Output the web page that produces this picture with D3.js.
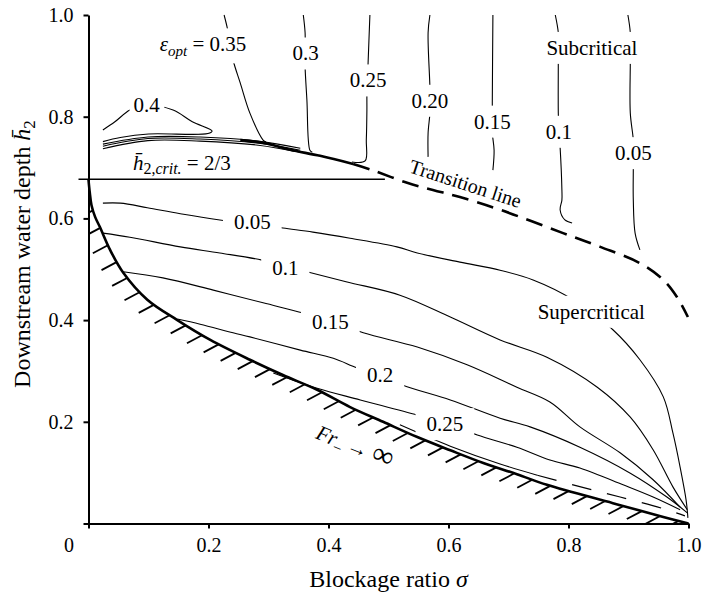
<!DOCTYPE html>
<html>
<head>
<meta charset="utf-8">
<script src="https://cdn.jsdelivr.net/npm/d3@7"></script>
<style>
  body { margin: 0; background: #fff; }
  svg { display: block; }
  .axis path, .axis line { stroke: #000; stroke-width: 2; }
  .contour { fill: none; stroke: #000; stroke-width: 1.1; }
</style>
</head>
<body>
<svg id="chart" width="703" height="593"></svg>
<script>
var SERIF = 'Liberation Serif';

// Axis ticks
var ticks = [0, 0.2, 0.4, 0.6, 0.8, 1.0];

// Critical depth used as reference line
var hCrit = 0.677;

// Fr -> infinity limit (lower boundary of the supercritical region)
var criticalCurve = [
  [0.000, 0.676], [0.002, 0.652], [0.005, 0.626], [0.011, 0.603],
  [0.019, 0.583], [0.036, 0.538], [0.058, 0.493], [0.098, 0.440],
  [0.148, 0.400], [0.203, 0.361], [0.269, 0.322], [0.324, 0.292],
  [0.381, 0.263], [0.436, 0.229], [0.491, 0.200], [0.548, 0.170],
  [0.603, 0.144], [0.658, 0.119], [0.714, 0.097], [0.764, 0.076],
  [0.874, 0.040], [0.958, 0.013], [1.000, 0.000]
];

// Transition between sub- and supercritical flow
var transitionSolid = [
  [0.253, 0.754], [0.294, 0.748], [0.336, 0.735], [0.386, 0.723], [0.441, 0.707]
];
var transitionDashed = [
  [0.441, 0.707], [0.473, 0.695], [0.531, 0.670], [0.574, 0.656],
  [0.619, 0.642], [0.686, 0.617], [0.791, 0.571], [0.853, 0.544],
  [0.919, 0.512], [0.958, 0.479], [0.981, 0.445], [0.999, 0.406]
];

// Subcritical iso-lines of eps_opt
var sub040 = [
  [0.024, 0.774], [0.044, 0.790], [0.069, 0.813], [0.097, 0.823],
  [0.141, 0.813], [0.173, 0.790], [0.206, 0.772], [0.199, 0.767],
  [0.100, 0.766], [0.053, 0.759], [0.024, 0.751]
];
var bundleA = [[0.024, 0.746], [0.099, 0.760], [0.186, 0.760], [0.283, 0.752], [0.353, 0.738]];
var bundleB = [[0.024, 0.742], [0.099, 0.757], [0.186, 0.756], [0.283, 0.748], [0.353, 0.734]];
var bundleC = [[0.024, 0.737], [0.099, 0.753], [0.186, 0.752], [0.283, 0.744], [0.353, 0.730]];
var sub035 = [
  [0.226, 1.000], [0.231, 0.976], [0.236, 0.943], [0.241, 0.911],
  [0.253, 0.866], [0.269, 0.807], [0.291, 0.754], [0.296, 0.750]
];
var sub030 = [
  [0.358, 1.000], [0.361, 0.965], [0.361, 0.925], [0.361, 0.898],
  [0.364, 0.833], [0.369, 0.734], [0.373, 0.730]
];
var sub025 = [
  [0.469, 1.000], [0.466, 0.906], [0.465, 0.872], [0.464, 0.843],
  [0.464, 0.813], [0.463, 0.754], [0.461, 0.713], [0.439, 0.711]
];
var sub020 = [
  [0.569, 1.000], [0.566, 0.965], [0.569, 0.858], [0.569, 0.832],
  [0.569, 0.807], [0.566, 0.768], [0.566, 0.721]
];
var sub015 = [
  [0.674, 1.000], [0.673, 0.827], [0.673, 0.791], [0.673, 0.768],
  [0.676, 0.734], [0.674, 0.695]
];
var sub010 = [
  [0.778, 1.000], [0.783, 0.965], [0.783, 0.936], [0.783, 0.908],
  [0.783, 0.807], [0.784, 0.771], [0.786, 0.740], [0.789, 0.656],
  [0.789, 0.636], [0.786, 0.617], [0.794, 0.597], [0.806, 0.591]
];
var sub005 = [
  [0.899, 1.000], [0.903, 0.965], [0.903, 0.908], [0.903, 0.807],
  [0.908, 0.754], [0.908, 0.729], [0.908, 0.699], [0.908, 0.636],
  [0.911, 0.571], [0.919, 0.538]
];

// Supercritical iso-lines of eps_opt
var sup005 = [
  [0.024, 0.630], [0.053, 0.630], [0.098, 0.621], [0.153, 0.609],
  [0.219, 0.597], [0.273, 0.590], [0.324, 0.581], [0.374, 0.573],
  [0.436, 0.561], [0.514, 0.544], [0.548, 0.532], [0.619, 0.514],
  [0.686, 0.498], [0.741, 0.479], [0.808, 0.440], [0.840, 0.412],
  [0.874, 0.381], [0.919, 0.322], [0.958, 0.249], [0.974, 0.178],
  [0.986, 0.111], [0.996, 0.046], [0.999, 0.011]
];
var sup010 = [
  [0.024, 0.571], [0.069, 0.563], [0.153, 0.544], [0.219, 0.532],
  [0.289, 0.518], [0.328, 0.506], [0.364, 0.495], [0.431, 0.475],
  [0.519, 0.449], [0.603, 0.406], [0.686, 0.361], [0.764, 0.327],
  [0.848, 0.268], [0.903, 0.209], [0.941, 0.145], [0.974, 0.072],
  [0.998, 0.027]
];
var sup015 = [
  [0.058, 0.495], [0.124, 0.483], [0.208, 0.459], [0.291, 0.434],
  [0.358, 0.414], [0.403, 0.399], [0.458, 0.375], [0.548, 0.347],
  [0.631, 0.312], [0.714, 0.268], [0.769, 0.239], [0.819, 0.190],
  [0.886, 0.139], [0.941, 0.086], [0.986, 0.032]
];
var sup020 = [
  [0.148, 0.402], [0.186, 0.392], [0.241, 0.375], [0.269, 0.367],
  [0.353, 0.341], [0.408, 0.325], [0.448, 0.306], [0.486, 0.292],
  [0.524, 0.272], [0.603, 0.243], [0.686, 0.207], [0.736, 0.190],
  [0.819, 0.150], [0.903, 0.099], [0.964, 0.052], [0.998, 0.021]
];
var sup025 = [
  [0.308, 0.296], [0.381, 0.266], [0.453, 0.243], [0.548, 0.213],
  [0.594, 0.197], [0.648, 0.174], [0.714, 0.150], [0.769, 0.125],
  [0.819, 0.109], [0.891, 0.076], [0.941, 0.052], [0.986, 0.027]
];
// Unlabelled line hugging the Fr -> infinity limit
var sup030Solid = [[0.519, 0.194], [0.603, 0.152], [0.686, 0.117], [0.748, 0.095]];
var sup030Dashed = [
  [0.748, 0.095], [0.814, 0.074], [0.886, 0.052], [0.956, 0.030], [0.994, 0.015]
];

var contourLines = [
  sub040, bundleA, bundleB, bundleC, sub035, sub030, sub025, sub020,
  sub015, sub010, sub005, sup005, sup010, sup015, sup020, sup025, sup030Solid
];

// Contour level labels, placed in data coordinates
var contourLabels = [
  {text: '0.4', at: [0.097, 0.823], padX: 4},
  {text: '0.3', at: [0.362, 0.925]},
  {text: '0.25', at: [0.466, 0.872]},
  {text: '0.20', at: [0.569, 0.832]},
  {text: '0.15', at: [0.673, 0.791]},
  {text: '0.1', at: [0.784, 0.771]},
  {text: '0.05', at: [0.908, 0.729]},
  {text: 'Subcritical', at: [0.839, 0.936]},
  {text: '0.05', at: [0.273, 0.593]},
  {text: '0.1', at: [0.328, 0.504]},
  {text: '0.15', at: [0.403, 0.397]},
  {text: '0.2', at: [0.486, 0.292]},
  {text: '0.25', at: [0.594, 0.196]},
  {text: 'Supercritical', at: [0.838, 0.417]}
];

var svg = d3.select('#chart');

var x = d3.scaleLinear().domain([0, 1]).range([88.5, 688.5]);
var y = d3.scaleLinear().domain([0, 1]).range([523.5, 15]);

var smooth = d3.line()
  .x(function(d) { return x(d[0]); })
  .y(function(d) { return y(d[1]); })
  .curve(d3.curveCatmullRom.alpha(0.5));

/**
 * Appends a text element with the serif face set on the element itself.
 */
function addText(parent, size) {
  return parent.append('text')
    .attr('font-family', SERIF)
    .attr('font-size', size)
    .attr('fill', '#000');
}

svg.append('defs').append('clipPath').attr('id', 'plot-clip')
  .append('rect')
  .attr('x', x(0)).attr('y', 0)
  .attr('width', 703 - x(0)).attr('height', y(0));

var lineLayer = svg.append('g');
var knockLayer = svg.append('g');
var labelLayer = svg.append('g');
var boundLayer = svg.append('g');

// Thin contour lines
lineLayer.selectAll('path.contour')
  .data(contourLines)
  .join('path')
  .attr('class', 'contour')
  .attr('d', smooth);

lineLayer.append('path')
  .datum(sup030Dashed)
  .attr('class', 'contour')
  .attr('stroke-dasharray', '20,16')
  .attr('d', smooth);

/**
 * Blanks the lines behind a label by drawing a white box under it.
 */
function knockout(textSel, padX, padY) {
  var b = textSel.node().getBBox();
  knockLayer.append('rect')
    .attr('x', b.x - padX).attr('y', b.y - padY)
    .attr('width', b.width + 2 * padX).attr('height', b.height + 2 * padY)
    .attr('fill', '#fff');
}

contourLabels.forEach(function(d) {
  var t = addText(labelLayer, 21)
    .attr('x', x(d.at[0]))
    .attr('y', y(d.at[1]))
    .attr('dy', '0.35em')
    .attr('text-anchor', 'middle')
    .text(d.text);
  knockout(t, d.padX === undefined ? 11 : d.padX, 4);
});

// eps_opt = 0.35
var epsLabel = addText(labelLayer, 21)
  .attr('x', x(0.191)).attr('y', y(0.943))
  .attr('dy', '0.35em')
  .attr('text-anchor', 'middle');
epsLabel.append('tspan').attr('font-style', 'italic').text('\u03b5');
epsLabel.append('tspan').attr('font-style', 'italic')
  .attr('font-size', 15).attr('dy', 5).text('opt');
epsLabel.append('tspan').attr('dy', -5).text(' = 0.35');
knockout(epsLabel, 2, 4);

// h2,crit = 2/3 reference line
boundLayer.append('line')
  .attr('x1', x(0) - 10).attr('x2', x(0.494))
  .attr('y1', y(hCrit)).attr('y2', y(hCrit))
  .attr('stroke', '#000').attr('stroke-width', 1.6);

var critLabel = addText(labelLayer, 21)
  .attr('x', x(0.074)).attr('y', y(0.695));
critLabel.append('tspan').attr('font-style', 'italic').text('h\u0304');
critLabel.append('tspan').attr('font-size', 16).attr('dy', 4).text('2,');
critLabel.append('tspan').attr('font-size', 16).attr('font-style', 'italic').text('crit.');
critLabel.append('tspan').attr('dy', -4).text(' = 2/3');

// Fr -> infinity boundary with hatching
var critPath = boundLayer.append('path')
  .datum(criticalCurve)
  .attr('fill', 'none')
  .attr('stroke', '#000')
  .attr('stroke-width', 2.6)
  .attr('d', smooth);

var pathNode = critPath.node(),
  totalLength = pathNode.getTotalLength(),
  hatchStep = 19,
  hatchLength = 17,
  hatchAngle = 28 * Math.PI / 180;

var hatchPoints = d3.range(12, totalLength, hatchStep).map(function(s) {
  return pathNode.getPointAtLength(s);
});

boundLayer.append('g')
  .attr('clip-path', 'url(#plot-clip)')
  .selectAll('line')
  .data(hatchPoints)
  .join('line')
  .attr('x1', function(p) { return p.x; })
  .attr('y1', function(p) { return p.y; })
  .attr('x2', function(p) { return p.x - hatchLength * Math.cos(hatchAngle); })
  .attr('y2', function(p) { return p.y + hatchLength * Math.sin(hatchAngle); })
  .attr('stroke', '#000')
  .attr('stroke-width', 1.8);

// Transition line
boundLayer.append('path')
  .datum(transitionSolid)
  .attr('fill', 'none').attr('stroke', '#000').attr('stroke-width', 2.6)
  .attr('d', smooth);

boundLayer.append('path')
  .datum(transitionDashed)
  .attr('fill', 'none').attr('stroke', '#000').attr('stroke-width', 2.6)
  .attr('stroke-dasharray', '17,9')
  .attr('d', smooth);

addText(labelLayer, 20)
  .attr('transform', 'translate(' + x(0.5325) + ',' + y(0.6913) + ') rotate(18)')
  .text('Transition line');

var frLabel = addText(labelLayer, 21)
  .attr('transform', 'translate(' + x(0.377) + ',' + y(0.168) + ') rotate(22)');
frLabel.append('tspan').attr('font-style', 'italic').text('Fr');
frLabel.append('tspan').attr('font-size', 14).attr('dy', 4).text('\u2013');
frLabel.append('tspan').attr('dy', -4).text(' \u2192 ');
frLabel.append('tspan').attr('font-size', 30).text('\u221e');

// Axes
var fmt = d3.format('.1f');

var xAxis = svg.append('g')
  .attr('class', 'axis')
  .attr('transform', 'translate(0,' + y(0) + ')')
  .call(d3.axisBottom(x).tickValues(ticks).tickSize(5).tickPadding(9)
    .tickSizeOuter(0)
    .tickFormat(function(d) { return d === 0 ? '0' : fmt(d); }));
xAxis.selectAll('.tick text')
  .filter(function(d) { return d === 0; })
  .attr('x', -20);

var yAxis = svg.append('g')
  .attr('class', 'axis')
  .attr('transform', 'translate(' + x(0) + ',0)')
  .call(d3.axisLeft(y).tickValues(ticks).tickSize(5).tickPadding(10)
    .tickSizeOuter(0)
    .tickFormat(function(d) { return d === 0 ? '' : fmt(d); }));

svg.selectAll('.axis text')
  .attr('font-family', SERIF)
  .attr('font-size', 20)
  .attr('fill', '#000');
svg.selectAll('.axis .domain').attr('stroke-width', 2.2);

var xTitle = addText(svg, 24)
  .attr('x', x(0.5)).attr('y', 587)
  .attr('text-anchor', 'middle');
xTitle.append('tspan').text('Blockage ratio ');
xTitle.append('tspan').attr('font-style', 'italic').text('\u03c3');

var yTitle = addText(svg, 24)
  .attr('transform', 'translate(30,254) rotate(-90)')
  .attr('text-anchor', 'middle');
yTitle.append('tspan').text('Downstream water depth ');
yTitle.append('tspan').attr('font-style', 'italic').text('h\u0304');
yTitle.append('tspan').attr('font-size', 17).attr('dy', 5).text('2');
</script>
</body>
</html>
